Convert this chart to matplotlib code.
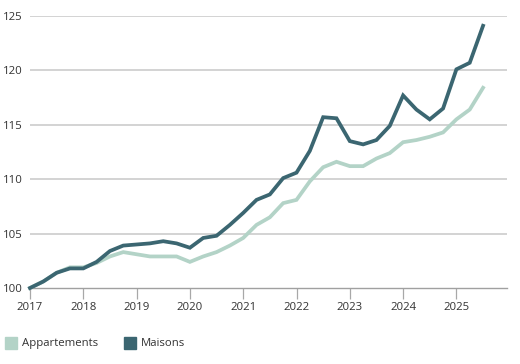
import matplotlib
matplotlib.use("Agg")
import matplotlib.pyplot as plt
from matplotlib.patches import Rectangle
import numpy as np

plt.rcParams['font.family'] = ['Open Sans', 'DejaVu Sans']

start_year = 2017
quarters_per_year = 4
appartements = [100.0, 100.6, 101.4, 101.9, 101.9, 102.3, 102.9, 103.3, 103.1, 102.9,
                102.9, 102.9, 102.4, 102.9, 103.3, 103.9, 104.6, 105.8, 106.5, 107.8,
                108.1, 109.8, 111.1, 111.6, 111.2, 111.2, 111.9, 112.4, 113.4, 113.6,
                113.9, 114.3, 115.5, 116.4, 118.4]
maisons = [100.0, 100.6, 101.4, 101.8, 101.8, 102.4, 103.4, 103.9, 104.0, 104.1,
           104.3, 104.1, 103.7, 104.6, 104.8, 105.8, 106.9, 108.1, 108.6, 110.1,
           110.6, 112.6, 115.7, 115.6, 113.5, 113.2, 113.6, 114.9, 117.7, 116.4,
           115.5, 116.5, 120.1, 120.7, 124.1]
year_ticks = [2017, 2018, 2019, 2020, 2021, 2022, 2023, 2024, 2025]
y_ticks = [100, 105, 110, 115, 120, 125]
series_names = ["Appartements", "Maisons"]

c_app = "#b3d3c7"
c_mai = "#3b6671"
txt = "#333333"

x = start_year + np.arange(len(maisons)) / quarters_per_year

fig = plt.figure(figsize=(5.2, 3.64), dpi=100)
W, H = 520, 364
ax = fig.add_axes([30 / W, 1 - 288 / H, (507 - 30) / W, (288 - 16) / H])

ax.plot(x, appartements, color=c_app, lw=2.7, solid_joinstyle='miter', zorder=3, clip_on=False)
ax.plot(x, maisons, color=c_mai, lw=2.7, solid_joinstyle='miter', zorder=4, clip_on=False)

ax.set_xlim(2017, 2017 + (507 - 30) / 53.3)
ax.set_ylim(100, 125)
ax.set_yticks(y_ticks)
ax.set_xticks(year_ticks)
ax.set_xticklabels([str(y) for y in year_ticks])
for v in y_ticks[1:]:
    ax.axhline(v, color="#c8c8c8", lw=1.1, zorder=1)

for s in ["top", "right", "left"]:
    ax.spines[s].set_visible(False)
ax.spines["bottom"].set_color("#a0a0a0")
ax.spines["bottom"].set_linewidth(1.0)
ax.tick_params(axis='x', direction='out', length=8, width=0.9, color="#a8a8a8",
               labelsize=8.2, labelcolor=txt, pad=2)
ax.tick_params(axis='y', length=0, labelsize=8.2, labelcolor=txt, pad=5)

# legend
fig.patches.append(Rectangle((5 / W, 1 - 349 / H), 12 / W, 12 / H, transform=fig.transFigure,
                             color=c_app, figure=fig))
fig.text(22 / W, 1 - 343.5 / H, series_names[0], fontsize=8.2, color=txt, va='center', ha='left')
fig.patches.append(Rectangle((124 / W, 1 - 349 / H), 12 / W, 12 / H, transform=fig.transFigure,
                             color=c_mai, figure=fig))
fig.text(141 / W, 1 - 343.5 / H, series_names[1], fontsize=8.2, color=txt, va='center', ha='left')

fig.savefig("out.png", dpi=100)
